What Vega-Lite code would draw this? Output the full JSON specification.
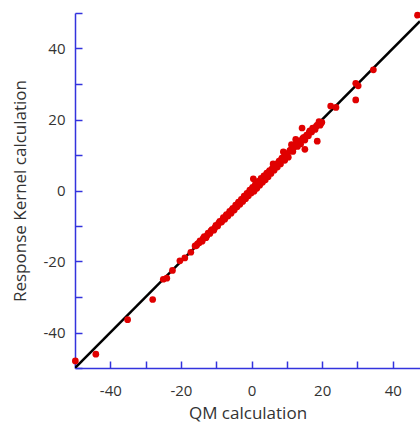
{
  "$schema": "https://vega.github.io/schema/vega-lite/v6.json",
  "autosize": {"type": "none"},
  "padding": {"left": 75, "top": 13, "right": 0, "bottom": 56},
  "width": 345,
  "height": 355,
  "config": {
    "view": {"stroke": null},
    "font": "Open Sans",
    "axis": {
      "grid": false,
      "domainColor": "#3333dd",
      "domainWidth": 1.5,
      "tickColor": "#3333dd",
      "tickWidth": 1.5,
      "labelFont": "Open Sans",
      "labelFontSize": 15,
      "labelColor": "#333333",
      "titleFont": "Open Sans",
      "titleFontSize": 17,
      "titleFontWeight": "normal",
      "titleColor": "#333333"
    }
  },
  "resolve": {"axis": {"x": "independent", "y": "independent"}},
  "layer": [
    {
      "data": {"values": [{"qm": -50, "rk": -50}, {"qm": 47.7, "rk": 47.7}]},
      "mark": {"type": "line", "color": "#000000", "strokeWidth": 2.5, "clip": true},
      "encoding": {
        "x": {"field": "qm", "type": "quantitative", "scale": {"domain": [-50, 47.7], "nice": false, "zero": false},
          "axis": {"orient": "bottom", "title": "QM calculation", "values": [-40, -20, 0, 20, 40], "ticks": false, "tickSize": 0, "labelPadding": 15, "labelExpr": "'' + datum.value", "titlePadding": 7}},
        "y": {"field": "rk", "type": "quantitative", "scale": {"domain": [-50, 50], "nice": false, "zero": false},
          "axis": {"orient": "left", "title": "Response Kernel calculation", "values": [-40, -20, 0, 20, 40], "ticks": false, "tickSize": 0, "labelPadding": 10, "labelExpr": "'' + datum.value", "titlePadding": 14}}
      }
    },
    {
      "data": {"values": [
        {"qm": -49.9, "rk": -48}, {"qm": -44.1, "rk": -46.1}, {"qm": -35.1, "rk": -36.4}, {"qm": -28, "rk": -30.7},
        {"qm": -25, "rk": -25}, {"qm": -24, "rk": -24.7}, {"qm": -22.4, "rk": -22.5}, {"qm": -20.3, "rk": -19.8},
        {"qm": -18.9, "rk": -19}, {"qm": -17.2, "rk": -17.4}, {"qm": -16, "rk": -15.6}, {"qm": -15.3, "rk": -15.0},
        {"qm": -14.6, "rk": -14.2}, {"qm": -14.0, "rk": -14.3}, {"qm": -13.4, "rk": -13.0}, {"qm": -12.9, "rk": -13.3},
        {"qm": -12.3, "rk": -12.0}, {"qm": -11.8, "rk": -12.1}, {"qm": -11.2, "rk": -11.0}, {"qm": -10.7, "rk": -11.2},
        {"qm": -10.1, "rk": -9.8}, {"qm": -9.6, "rk": -10.0}, {"qm": -9.0, "rk": -8.7}, {"qm": -8.5, "rk": -8.9},
        {"qm": -8.0, "rk": -7.6}, {"qm": -7.6, "rk": -8.1}, {"qm": -7.1, "rk": -6.8}, {"qm": -6.7, "rk": -7.2},
        {"qm": -6.2, "rk": -5.9}, {"qm": -5.8, "rk": -6.4}, {"qm": -5.3, "rk": -5.0}, {"qm": -4.9, "rk": -5.5},
        {"qm": -4.5, "rk": -4.1}, {"qm": -4.1, "rk": -4.6}, {"qm": -3.7, "rk": -3.3}, {"qm": -3.3, "rk": -3.9},
        {"qm": -2.9, "rk": -2.5}, {"qm": -2.5, "rk": -3.1}, {"qm": -2.1, "rk": -1.6}, {"qm": -1.7, "rk": -2.3},
        {"qm": -1.3, "rk": -0.8}, {"qm": -0.9, "rk": -1.5}, {"qm": -0.5, "rk": 0.1}, {"qm": -0.1, "rk": -0.7},
        {"qm": 0.3, "rk": 0.9}, {"qm": 0.5, "rk": 3.3}, {"qm": 0.7, "rk": -0.2}, {"qm": 1.1, "rk": 1.8},
        {"qm": 1.5, "rk": 0.6}, {"qm": 1.9, "rk": 2.6}, {"qm": 2.3, "rk": 1.5}, {"qm": 2.7, "rk": 3.4},
        {"qm": 3.1, "rk": 2.3}, {"qm": 3.5, "rk": 4.1}, {"qm": 3.9, "rk": 3.0}, {"qm": 4.3, "rk": 4.9},
        {"qm": 4.7, "rk": 3.9}, {"qm": 5.1, "rk": 5.6}, {"qm": 5.5, "rk": 4.8}, {"qm": 6.1, "rk": 7.5},
        {"qm": 6.4, "rk": 5.7}, {"qm": 6.9, "rk": 7.4}, {"qm": 7.3, "rk": 6.6}, {"qm": 7.8, "rk": 8.3},
        {"qm": 8.2, "rk": 7.5}, {"qm": 8.6, "rk": 9.1}, {"qm": 9.0, "rk": 10.9}, {"qm": 9.4, "rk": 8.5},
        {"qm": 9.8, "rk": 10.3}, {"qm": 10.4, "rk": 9.4}, {"qm": 10.8, "rk": 11.2}, {"qm": 11.3, "rk": 12.9},
        {"qm": 11.7, "rk": 11.0}, {"qm": 12.1, "rk": 12.6}, {"qm": 12.5, "rk": 14.4}, {"qm": 13.0, "rk": 12.4},
        {"qm": 13.4, "rk": 13.9}, {"qm": 13.9, "rk": 13.1}, {"qm": 14.3, "rk": 17.6}, {"qm": 14.5, "rk": 14.7},
        {"qm": 15.1, "rk": 11.6}, {"qm": 15.1, "rk": 14.2}, {"qm": 15.6, "rk": 15.6}, {"qm": 16.1, "rk": 15.4},
        {"qm": 16.5, "rk": 16.8}, {"qm": 17.0, "rk": 16.5}, {"qm": 17.5, "rk": 17.4}, {"qm": 18.0, "rk": 17.2},
        {"qm": 18.6, "rk": 13.9}, {"qm": 18.6, "rk": 18.4}, {"qm": 19.4, "rk": 18.6}, {"qm": 19.4, "rk": 18.4},
        {"qm": 19.9, "rk": 19.2}, {"qm": 22.4, "rk": 23.8}, {"qm": 23.9, "rk": 23.4}, {"qm": 29.5, "rk": 30.2},
        {"qm": 30.2, "rk": 29.5}, {"qm": 29.5, "rk": 25.5}, {"qm": 34.5, "rk": 34}, {"qm": 47, "rk": 49.4},
        {"qm": -15.6, "rk": -15.5}, {"qm": -14.8, "rk": -14.7}, {"qm": -13.7, "rk": -13.5}, {"qm": -12.6, "rk": -12.7},
        {"qm": -11.5, "rk": -11.4}, {"qm": -10.4, "rk": -10.5}, {"qm": -9.3, "rk": -9.2}, {"qm": -8.2, "rk": -8.3},
        {"qm": -7.3, "rk": -7.2}, {"qm": -6.4, "rk": -6.5}, {"qm": -5.5, "rk": -5.4}, {"qm": -4.7, "rk": -4.8},
        {"qm": -3.9, "rk": -3.8}, {"qm": -3.1, "rk": -3.2}, {"qm": -2.3, "rk": -2.2}, {"qm": -1.5, "rk": -1.6},
        {"qm": -0.7, "rk": -0.5}, {"qm": 0.1, "rk": 0.4}, {"qm": 0.9, "rk": 1.2}, {"qm": 1.7, "rk": 1.9},
        {"qm": 2.5, "rk": 2.8}, {"qm": 3.3, "rk": 3.4}, {"qm": 4.1, "rk": 4.3}, {"qm": 4.9, "rk": 5.2},
        {"qm": 5.8, "rk": 6.1}, {"qm": 6.6, "rk": 6.9}, {"qm": 7.5, "rk": 7.7}, {"qm": 8.4, "rk": 8.6},
        {"qm": 9.2, "rk": 9.5}, {"qm": 10.1, "rk": 10.3}, {"qm": 11.0, "rk": 11.4}, {"qm": 11.9, "rk": 12.1},
        {"qm": 12.8, "rk": 13.1}, {"qm": 13.7, "rk": 14.0}, {"qm": 14.8, "rk": 15.0}, {"qm": 16.3, "rk": 16.3},
        {"qm": 17.3, "rk": 17.6}, {"qm": 18.3, "rk": 18.1}, {"qm": 19.1, "rk": 19.4}, {"qm": 19.7, "rk": 19.0}
      ]},
      "mark": {"type": "circle", "color": "#e00000", "opacity": 1, "size": 45, "clip": false},
      "encoding": {
        "x": {"field": "qm", "type": "quantitative",
          "axis": {"orient": "bottom", "title": null, "domain": false, "labels": false, "values": [-50, -40, -30, -20, -10, 0, 10, 20, 30, 40], "tickSize": 7, "offset": -7}},
        "y": {"field": "rk", "type": "quantitative",
          "axis": {"orient": "left", "title": null, "domain": false, "labels": false, "values": [-50, -40, -30, -20, -10, 0, 10, 20, 30, 40, 50], "tickSize": 7, "offset": -7}}
      }
    }
  ]
}
